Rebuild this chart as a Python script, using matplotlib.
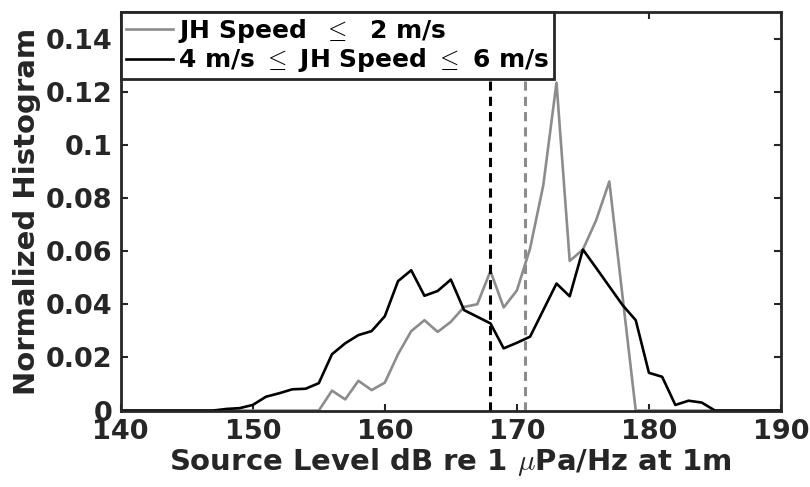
import numpy as np
import matplotlib
matplotlib.use('Agg')
import matplotlib.pyplot as plt

# source level bins (dB re 1 uPa/Hz at 1m)
levels = np.arange(140, 191)

# normalized histogram, JH speed <= 2 m/s
hist_slow = [0, 0, 0, 0, 0, 0, 0, 0, 0, 0,
             0, 0, 0, 0, 0, 0, 0.0075, 0.0042, 0.0112, 0.0077,
             0.0105, 0.0212, 0.0299, 0.0340, 0.0296, 0.0334, 0.0390, 0.0400, 0.0525, 0.0388,
             0.0452, 0.0610, 0.0848, 0.1234, 0.0563, 0.0606, 0.0716, 0.0862, 0.0430, 0,
             0, 0, 0, 0, 0, 0, 0, 0, 0, 0, 0]

# normalized histogram, 4 m/s <= JH speed <= 6 m/s
hist_fast = [0, 0, 0, 0, 0, 0, 0, 0, 0.0006, 0.0009,
             0.0021, 0.0052, 0.0065, 0.0080, 0.0082, 0.0103, 0.0212, 0.0253, 0.0284, 0.0299,
             0.0355, 0.0487, 0.0528, 0.0432, 0.0450, 0.0493, 0.0378, 0.0353, 0.0328, 0.0234,
             0.0255, 0.0278, 0.0378, 0.0478, 0.0430, 0.0606, 0.0537, 0.0467, 0.0397, 0.0340,
             0.0142, 0.0127, 0.0021, 0.0037, 0.0030, 0, 0, 0, 0, 0, 0]

# median source level of each group
median_slow = 170.6
median_fast = 168.0

gray = '#8c8c8c'
dark = '#262626'

plt.rcParams['font.family'] = 'DejaVu Sans'
plt.rcParams['font.weight'] = 'bold'
plt.rcParams['mathtext.fontset'] = 'cm'

fig = plt.figure(figsize=(8.1, 4.87), dpi=100)
ax = fig.add_axes([0.149, 0.157, 0.8152, 0.8183])

ax.plot(levels, hist_slow, color=gray, lw=1.9, label=r'JH Speed  $\leq$  2 m/s')
ax.plot(levels, hist_fast, color='black', lw=1.9, label=r'4 m/s $\leq$ JH Speed $\leq$ 6 m/s')
ax.axvline(median_fast, color='black', lw=2.2, ls=(0, (3, 2)))
ax.axvline(median_slow, color=gray, lw=2.2, ls=(0, (3, 2)))

ax.set_xlim(140, 190)
ax.set_ylim(0, 0.15)
ax.set_xticks([140, 150, 160, 170, 180, 190])
ax.set_yticks([0, 0.02, 0.04, 0.06, 0.08, 0.1, 0.12, 0.14])
ax.set_yticklabels(['0', '0.02', '0.04', '0.06', '0.08', '0.1', '0.12', '0.14'])
ax.tick_params(direction='in', length=5, width=1.5, top=True, right=True,
               labelsize=19.5, colors=dark, pad=6)
for side in ax.spines.values():
    side.set_linewidth(2)
    side.set_color(dark)

ax.set_xlabel(r'Source Level dB re 1 $\mu$Pa/Hz at 1m', fontsize=21,
              fontweight='bold', color=dark, labelpad=1)
ax.set_ylabel('Normalized Histogram', fontsize=21, fontweight='bold',
              color=dark, labelpad=3)

leg = ax.legend(loc='upper left', bbox_to_anchor=(0, 1), borderaxespad=0,
                fontsize=18, frameon=True, fancybox=False, framealpha=1,
                handlelength=1.9, handletextpad=0.2, labelspacing=0.05,
                borderpad=0.2)
leg.get_frame().set_edgecolor(dark)
leg.get_frame().set_linewidth(2)
for t in leg.get_texts():
    t.set_color('black')

fig.savefig('out.png', dpi=100)
